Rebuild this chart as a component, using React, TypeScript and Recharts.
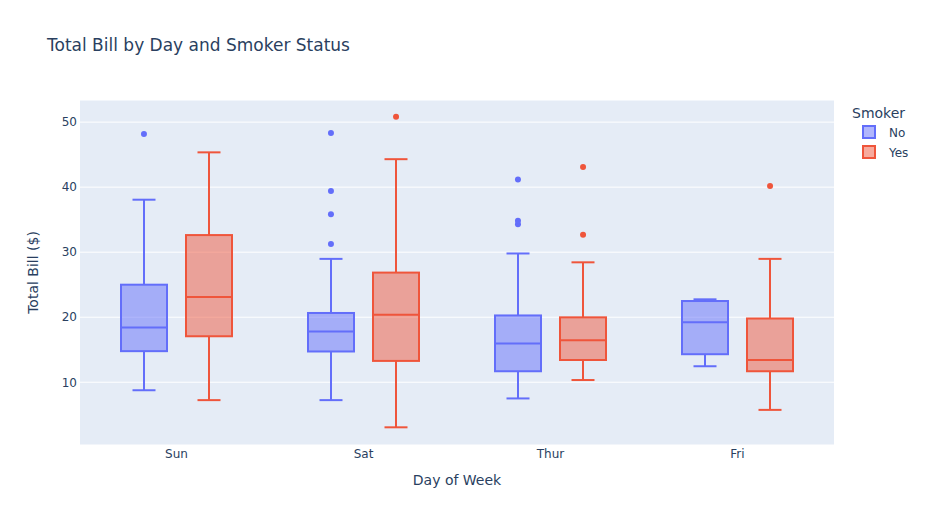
import React from "react"
import { ComposedChart, Bar, Scatter, XAxis, YAxis, CartesianGrid, Label } from "recharts"

// tips dataset, total bill per day split by smoker status
const days = ["Sun", "Sat", "Thur", "Fri"]

const noMin = [8.77, 7.25, 7.51, 12.46]
const noQ1 = [14.78, 14.73, 11.69, 14.31]
const noMedian = [18.43, 17.82, 15.95, 19.24]
const noQ3 = [25.0, 20.65, 20.27, 22.49]
const noMax = [38.07, 28.97, 29.8, 22.75]
const noOutliers = [[48.17], [31.27, 35.83, 39.42, 48.33], [34.3, 34.83, 41.19], []]

const yesMin = [7.25, 3.07, 10.34, 5.75]
const yesQ1 = [17.07, 13.28, 13.42, 11.69]
const yesMedian = [23.1, 20.39, 16.47, 13.42]
const yesQ3 = [32.63, 26.86, 19.98, 19.8]
const yesMax = [45.35, 44.3, 28.44, 28.97]
const yesOutliers = [[], [50.81], [32.68, 43.11], [40.17]]

const yTicks = [10, 20, 30, 40, 50]

const NO_COLOR = "#636efa"
const YES_COLOR = "#EF553B"
const FONT = "'DejaVu Sans', Verdana, sans-serif"
const TEXT = "#2a3f5f"
const OFFSET = 0.174

const data = days.map((day, i) => ({
  day,
  noRange: [noMin[i], noMax[i]],
  noLo: noMin[i],
  noQ1: noQ1[i],
  noMed: noMedian[i],
  noQ3: noQ3[i],
  noHi: noMax[i],
  yesRange: [yesMin[i], yesMax[i]],
  yesLo: yesMin[i],
  yesQ1: yesQ1[i],
  yesMed: yesMedian[i],
  yesQ3: yesQ3[i],
  yesHi: yesMax[i],
}))

const noDots = noOutliers.flatMap((vals, i) => vals.map((v) => ({ x: i - OFFSET, y: v })))
const yesDots = yesOutliers.flatMap((vals, i) => vals.map((v) => ({ x: i + OFFSET, y: v })))

function makeBox(key: "no" | "yes", color: string, fill: string) {
  return (props: any) => {
    const { x, y, width, height, payload } = props
    if (!payload || payload[key + "Lo"] == null) return <g />
    const lo = payload[key + "Lo"]
    const hi = payload[key + "Hi"]
    const q1 = payload[key + "Q1"]
    const q3 = payload[key + "Q3"]
    const med = payload[key + "Med"]
    // bar spans [lo, hi]; map the other stats with the same linear scale
    const py = (v: number) => y + ((hi - v) / (hi - lo)) * height
    const cx = x + width / 2
    const cap = width / 4
    return (
      <g>
        <line x1={cx} x2={cx} y1={py(hi)} y2={py(q3)} stroke={color} strokeWidth={2} />
        <line x1={cx} x2={cx} y1={py(q1)} y2={py(lo)} stroke={color} strokeWidth={2} />
        <line x1={cx - cap} x2={cx + cap} y1={py(hi)} y2={py(hi)} stroke={color} strokeWidth={2} />
        <line x1={cx - cap} x2={cx + cap} y1={py(lo)} y2={py(lo)} stroke={color} strokeWidth={2} />
        <rect x={x} y={py(q3)} width={width} height={py(q1) - py(q3)} fill={fill} stroke={color} strokeWidth={2} />
        <line x1={x} x2={x + width} y1={py(med)} y2={py(med)} stroke={color} strokeWidth={2} />
      </g>
    )
  }
}

function LegendBox() {
  const items = [
    { name: "No", color: NO_COLOR, fill: "rgba(99,110,250,0.5)" },
    { name: "Yes", color: YES_COLOR, fill: "rgba(239,85,59,0.5)" },
  ]
  return (
    <svg width={90} height={70} style={{ position: "absolute", left: 848, top: 95, fontFamily: FONT }}>
      <text x={4} y={23} fontSize={14} fill={TEXT}>
        Smoker
      </text>
      {items.map((it, i) => (
        <g key={it.name}>
          <rect x={15} y={31 + i * 20} width={12} height={12} fill={it.fill} stroke={it.color} strokeWidth={2} />
          <text x={41} y={42 + i * 20} fontSize={12} fill={TEXT}>
            {it.name}
          </text>
        </g>
      ))}
    </svg>
  )
}

const noBox = makeBox("no", NO_COLOR, "rgba(99,110,250,0.5)")
const yesBox = makeBox("yes", YES_COLOR, "rgba(239,85,59,0.5)")

export default function App() {
  return (
    <div style={{ position: "absolute", left: 0, top: 0, width: 928, height: 525, background: "#fff" }}>
      <ComposedChart
        width={928}
        height={525}
        data={data}
        margin={{ top: 100, right: 94, left: 0, bottom: 0 }}
        barSize={46}
        barGap={19}
      >
        <CartesianGrid fill="#E5ECF6" stroke="#ffffff" strokeWidth={1} vertical={false} />
        <XAxis
          dataKey="day"
          type="category"
          height={80}
          padding={{ left: 3, right: 3 }}
          axisLine={false}
          tickLine={false}
          tickSize={0}
          tickMargin={4}
          tick={{ fill: TEXT, fontSize: 12, fontFamily: FONT }}
        >
          <Label value="Day of Week" position="insideTop" offset={30} fill={TEXT} fontSize={14} fontFamily={FONT} />
        </XAxis>
        <XAxis
          xAxisId="num"
          type="number"
          dataKey="x"
          domain={[-0.5, 3.5]}
          padding={{ left: 3, right: 3 }}
          allowDataOverflow
          hide
        />
        <YAxis
          type="number"
          domain={[0.35, 53.4]}
          allowDataOverflow
          ticks={yTicks}
          width={80}
          axisLine={false}
          tickLine={false}
          tickSize={0}
          tickMargin={3}
          tick={{ fill: TEXT, fontSize: 12, fontFamily: FONT }}
        >
          <Label
            value="Total Bill ($)"
            angle={-90}
            position="insideLeft"
            offset={33}
            style={{ textAnchor: "middle" }}
            fill={TEXT}
            fontSize={14}
            fontFamily={FONT}
          />
        </YAxis>
        <Bar dataKey="noRange" name="No" shape={noBox} isAnimationActive={false} />
        <Bar dataKey="yesRange" name="Yes" shape={yesBox} isAnimationActive={false} />
        <Scatter
          xAxisId="num"
          data={noDots}
          dataKey="y"
          fill={NO_COLOR}
          shape={(p: any) => <circle cx={p.cx} cy={p.cy} r={3} fill={NO_COLOR} />}
          isAnimationActive={false}
        />
        <Scatter
          xAxisId="num"
          data={yesDots}
          dataKey="y"
          fill={YES_COLOR}
          shape={(p: any) => <circle cx={p.cx} cy={p.cy} r={3} fill={YES_COLOR} />}
          isAnimationActive={false}
        />
      </ComposedChart>
      <svg width={400} height={60} style={{ position: "absolute", left: 0, top: 0 }}>
        <text x={47} y={51} fontSize={17} fill={TEXT} fontFamily={FONT}>
          Total Bill by Day and Smoker Status
        </text>
      </svg>
      <LegendBox />
    </div>
  )
}
